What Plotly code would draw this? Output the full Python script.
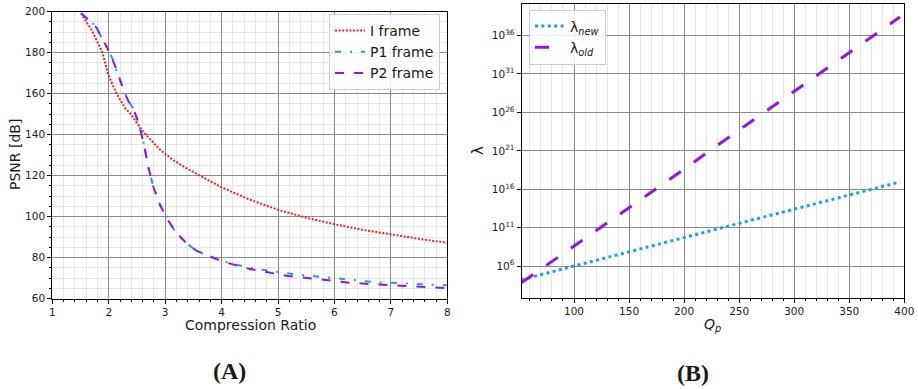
import plotly.graph_objects as go

# ---------------- Panel (A) data ----------------
cr_i = [1.51, 1.71, 1.89, 1.99, 2.14, 2.29, 2.38, 2.61, 2.91, 3.14, 3.41, 3.62, 4.0,
        4.5, 5.0, 5.5, 6.0, 6.5, 7.0, 7.5, 8.0]
psnr_i = [199.2, 190.4, 180.0, 169.3, 160.0, 153.0, 150.4, 141.5, 132.6, 127.7, 123.1,
          119.9, 114.3, 108.3, 103.4, 99.5, 96.3, 93.6, 91.3, 89.2, 87.3]

cr_p1 = [1.51, 1.64, 1.77, 1.86, 1.95, 2.02, 2.09, 2.15, 2.25, 2.35, 2.44, 2.53, 2.62,
         2.70, 2.79, 2.91, 3.03, 3.18, 3.38, 3.56, 3.8, 4.03, 4.5, 5.0, 5.26, 5.75,
         6.25, 6.75, 7.24, 7.74, 8.0]
psnr_p1 = [199.2, 196.3, 193.0, 188.0, 183.5, 180.0, 175.5, 170.0, 163.0, 156.5, 152.5,
           145.6, 135.8, 124.4, 114.6, 105.7, 99.2, 92.7, 87.0, 83.3, 80.5, 78.2, 75.0,
           72.8, 72.0, 70.7, 69.5, 68.0, 67.5, 66.8, 66.5]

cr_p2 = [1.51, 1.64, 1.79, 1.87, 1.96, 2.02, 2.08, 2.17, 2.26, 2.35, 2.44, 2.53, 2.62,
         2.70, 2.79, 2.91, 3.03, 3.18, 3.38, 3.56, 3.8, 4.03, 4.5, 5.0, 5.18, 5.56,
         5.91, 6.27, 6.62, 6.98, 7.33, 7.68, 7.99]
psnr_p2 = [199.2, 196.1, 192.0, 187.2, 183.1, 179.8, 175.8, 169.3, 162.0, 156.3, 152.5,
           145.6, 135.8, 124.4, 114.6, 105.7, 99.2, 92.7, 87.0, 83.3, 80.5, 78.0, 74.5,
           72.0, 71.1, 70.0, 68.8, 67.8, 67.2, 66.7, 66.2, 65.6, 65.1]

# ---------------- Panel (B) data ----------------
qp = [52.5, 75, 100, 125, 150, 175, 200, 225, 250, 275, 300, 325, 350, 375, 396]
log10_lambda_new = [4.25, 5.1, 6.0, 6.93, 7.85, 8.78, 9.72, 10.65, 11.57, 12.5, 13.43,
                    14.36, 15.3, 16.2, 16.95]
log10_lambda_old = [3.87, 6.1, 8.6, 11.1, 13.6, 16.1, 18.6, 21.2, 23.7, 26.2, 28.8,
                    31.3, 33.8, 36.3, 38.4]
lambda_new = [10.0 ** v for v in log10_lambda_new]
lambda_old = [10.0 ** v for v in log10_lambda_old]

a_xticks = [1, 2, 3, 4, 5, 6, 7, 8]
a_yticks = [60, 80, 100, 120, 140, 160, 180, 200]
b_xticks = [100, 150, 200, 250, 300, 350, 400]
b_yexp = [6, 11, 16, 21, 26, 31, 36]

RED = "#ff1a1a"
BLUE = "#1a9cf0"
PURPLE = "#9414e6"
W, H = 918, 389
FONT = "DejaVu Sans"

fig = go.Figure()

fig.add_trace(go.Scatter(x=cr_i, y=psnr_i, mode="lines", name="I frame",
                         line=dict(color=RED, width=2, dash="2px,1.6px"),
                         xaxis="x", yaxis="y", legend="legend"))
fig.add_trace(go.Scatter(x=cr_p1, y=psnr_p1, mode="lines", name="P1 frame",
                         line=dict(color=BLUE, width=2, dash="6px,9px,2px,9px"),
                         xaxis="x", yaxis="y", legend="legend"))
fig.add_trace(go.Scatter(x=cr_p2, y=psnr_p2, mode="lines", name="P2 frame",
                         line=dict(color=PURPLE, width=2, dash="9px,10px"),
                         xaxis="x", yaxis="y", legend="legend"))

fig.add_trace(go.Scatter(x=qp, y=lambda_new, mode="lines",
                         name="λ<sub><i>new</i></sub>",
                         line=dict(color=BLUE, width=3, dash="3px,3.4px"),
                         xaxis="x2", yaxis="y2", legend="legend2"))
fig.add_trace(go.Scatter(x=qp, y=lambda_old, mode="lines",
                         name="λ<sub><i>old</i></sub>",
                         line=dict(color=PURPLE, width=3, dash="14px,16px"),
                         xaxis="x2", yaxis="y2", legend="legend2"))

GRID = "#8a8a8a"
MINOR = "#e6e6e6"
tickfont = dict(family=FONT, size=10.5, color="#1a1a1a")

def common(**kw):
    d = dict(showline=True, linecolor="black", linewidth=1.2, mirror=True,
             ticks="outside", ticklen=4, tickwidth=1, tickcolor="black",
             showgrid=True, gridcolor=GRID, gridwidth=1.1, zeroline=False,
             tickfont=tickfont, automargin=False)
    d.update(kw)
    return d

fig.update_layout(
    template="none",
    width=W, height=H,
    margin=dict(l=0, r=0, t=0, b=0, pad=0, autoexpand=False),
    paper_bgcolor="white", plot_bgcolor="white",
    font=dict(family=FONT, color="black"),
    xaxis=common(domain=[52.3 / W, 447.3 / W], range=[1, 8], tickvals=a_xticks,
                 anchor="y",
                 minor=dict(dtick=0.2, ticklen=2, tickcolor="black", ticks="outside",
                            showgrid=True, gridcolor=MINOR, gridwidth=1)),
    yaxis=common(domain=[1 - 298.7 / H, 1 - 11.7 / H], range=[60, 200], tickvals=a_yticks,
                 anchor="x",
                 minor=dict(dtick=5, ticklen=2, tickcolor="black", ticks="outside",
                            showgrid=True, gridcolor=MINOR, gridwidth=1)),
    xaxis2=common(domain=[521.7 / W, 904.3 / W], range=[52.5, 400], tickvals=b_xticks,
                  anchor="y2",
                  minor=dict(dtick=10, tick0=0, ticklen=2, tickcolor="black", ticks="outside",
                             showgrid=True, gridcolor=MINOR, gridwidth=1)),
    yaxis2=common(domain=[1 - 297.7 / H, 1 - 4 / H], type="log", range=[1.9, 40.1],
                  tickvals=[10.0 ** e for e in b_yexp],
                  ticktext=["10<sup>%d</sup>" % e for e in b_yexp],
                  anchor="x2"),
    legend=dict(x=440 / W, xanchor="right", y=1 - 14 / H, yanchor="top",
                bgcolor="rgba(255,255,255,0.85)", bordercolor="#cccccc", borderwidth=1,
                font=dict(family=FONT, size=14, color="#1a1a1a"), tracegroupgap=0,
                itemwidth=30),
    legend2=dict(x=529 / W, xanchor="left", y=1 - 9.5 / H, yanchor="top",
                 bgcolor="rgba(255,255,255,0.85)", bordercolor="#cccccc", borderwidth=1,
                 font=dict(family=FONT, size=14, color="#1a1a1a"), tracegroupgap=0,
                 itemwidth=30),
    showlegend=True,
)

ann = [
    dict(text="Compression Ratio", x=250 / W, y=1 - 325 / H, font=dict(size=14)),
    dict(text="PSNR [dB]", x=15 / W, y=1 - 155 / H, textangle=-90, font=dict(size=14)),
    dict(text="<i>Q<sub>p</sub></i>", x=712 / W, y=1 - 325 / H, font=dict(size=14)),
    dict(text="λ", x=478 / W, y=1 - 151 / H, textangle=-90, font=dict(size=15)),
    dict(text="<b>(A)</b>", x=230 / W, y=1 - 371 / H,
         font=dict(family="Liberation Serif", size=24)),
    dict(text="<b>(B)</b>", x=693 / W, y=1 - 373 / H,
         font=dict(family="Liberation Serif", size=24)),
]
for a in ann:
    a.setdefault("font", {})
    a["font"].setdefault("family", FONT)
    a["font"].setdefault("color", "#1a1a1a")
    fig.add_annotation(xref="paper", yref="paper", xanchor="center", yanchor="middle",
                       showarrow=False, **a)

fig.write_html("out.html")
